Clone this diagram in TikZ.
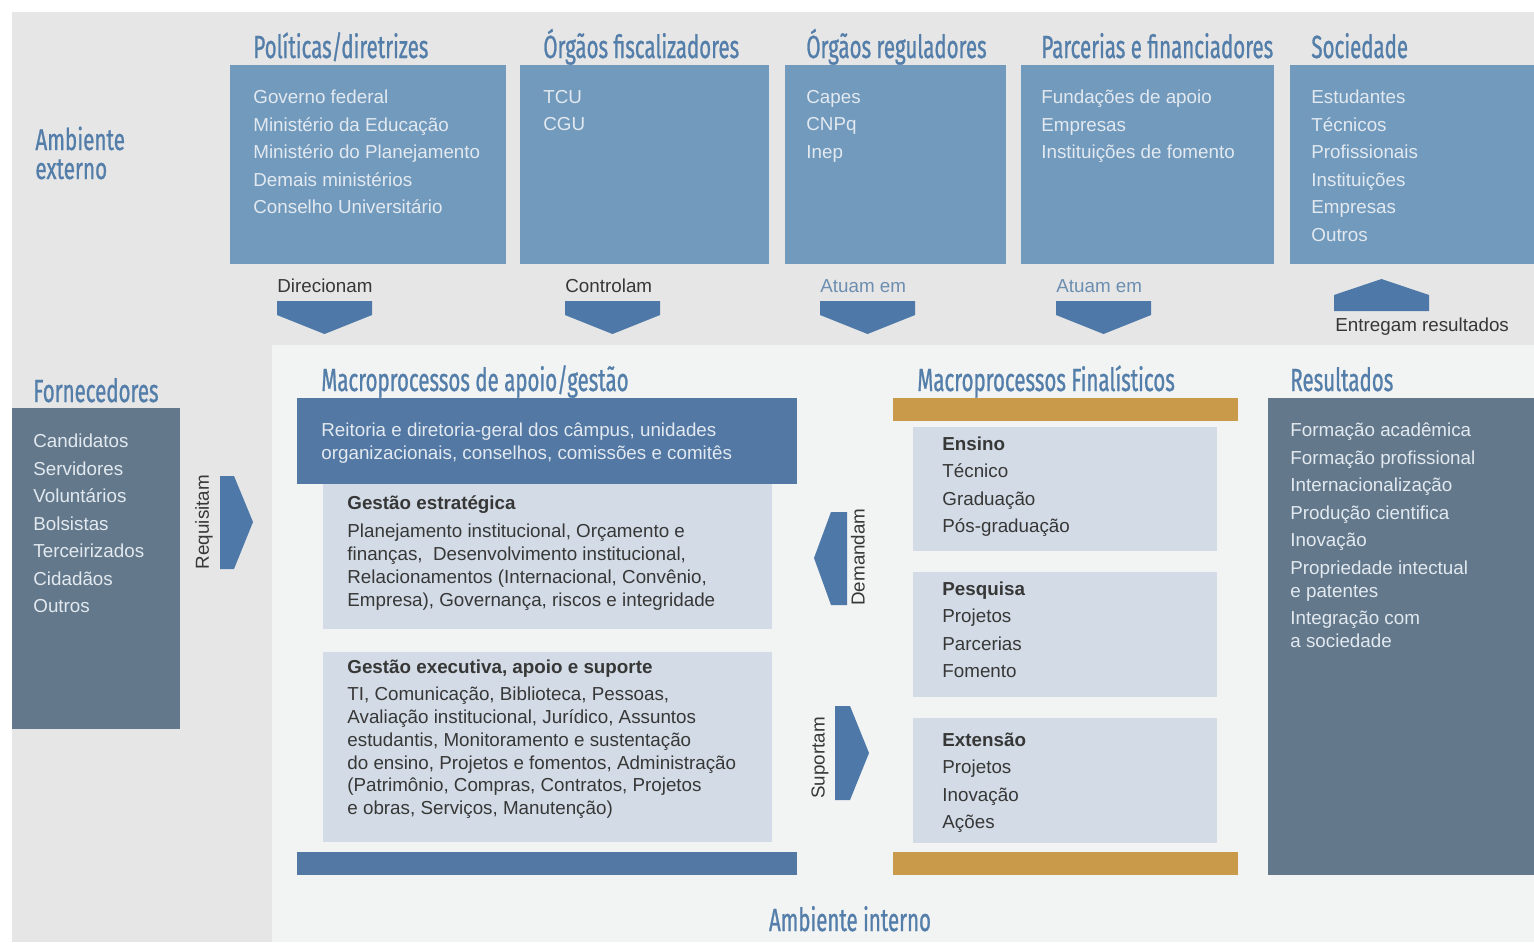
\documentclass[tikz,border=0pt]{standalone}
\usepackage{fontspec}
\setmainfont{Liberation Sans}
\newfontfamily\headfont[FakeStretch=0.64,FakeBold=0.8]{Fira Sans}
\newfontfamily\headwidefont[FakeStretch=0.69,FakeBold=0.8]{Fira Sans}

\definecolor{bggray}{RGB}{230,230,230}
\definecolor{ingray}{RGB}{242,243,243}
\definecolor{topblue}{RGB}{114,154,189}
\definecolor{deepblue}{RGB}{82,120,163}
\definecolor{arrowblue}{RGB}{77,120,168}
\definecolor{slate}{RGB}{99,120,138}
\definecolor{paleblue}{RGB}{211,220,230}
\definecolor{gold}{RGB}{201,154,74}
\definecolor{headblue}{RGB}{84,126,170}
\definecolor{lighttext}{RGB}{226,233,240}
\definecolor{darktext}{RGB}{55,55,55}
\definecolor{mutedblue}{RGB}{108,142,176}

\tikzset{
  headtitle/.style={anchor=base west, inner sep=0, text=headblue,
    font=\headfont\fontsize{16}{14}\selectfont},
  lightlist/.style={anchor=north west, inner sep=0, align=left, text=lighttext,
    font=\fontsize{9.4}{13.75}\selectfont},
  darklist/.style={anchor=north west, inner sep=0, align=left, text=darktext,
    font=\fontsize{9.4}{11.4}\selectfont},
  flowlabel/.style={inner sep=0, text=darktext, font=\fontsize{9.4}{11}\selectfont},
  blockarrow/.style={fill=arrowblue}
}

\begin{document}
\begin{tikzpicture}[x=0.5pt,y=-0.5pt]

    % --- Background ---
    \useasboundingbox (0,0) rectangle (1534,942);
    \fill[white] (0,0) rectangle (1534,942);
    \fill[bggray] (12,12) rectangle (1534,942);
    % Internal environment area
    \fill[ingray] (272,345) rectangle (1534,942);

    % --- External environment ---
    \node[headtitle, font=\headwidefont\fontsize{15}{14}\selectfont] (ext) at (35,150) {Ambiente};
    \node[headtitle, font=\headwidefont\fontsize{15}{14}\selectfont] (ext2) at (35,179) {externo};

    % Top boxes
    \fill[topblue] (230,65) rectangle (506,264);
    \fill[topblue] (520,65) rectangle (769,264);
    \fill[topblue] (785,65) rectangle (1006,264);
    \fill[topblue] (1021,65) rectangle (1274,264);
    \fill[topblue] (1290,65) rectangle (1534,264);

    \node[headtitle] (pol) at (253,58) {Políticas/diretrizes};
    \node[headtitle] (fis) at (543,58) {Órgãos fiscalizadores};
    \node[headtitle] (reg) at (806,58) {Órgãos reguladores};
    \node[headtitle] (par) at (1041,58) {Parcerias e financiadores};
    \node[headtitle] (soc) at (1311,58) {Sociedade};

    \node[lightlist] (polList) at (253,89.5) {Governo federal\\Ministério da Educação\\Ministério do Planejamento\\Demais ministérios\\Conselho Universitário};
    \node[lightlist] (fisList) at (543,89.5) {TCU\\CGU};
    \node[lightlist] (regList) at (806,89.5) {Capes\\CNPq\\Inep};
    \node[lightlist] (parList) at (1041,89.5) {Fundações de apoio\\Empresas\\Instituições de fomento};
    \node[lightlist] (socList) at (1311,89.5) {Estudantes\\Técnicos\\Profissionais\\Instituições\\Empresas\\Outros};

    % --- Arrows between the environments ---
    \node[flowlabel, anchor=west] (dir) at (277,286) {Direcionam};
    \node[flowlabel, anchor=west] (con) at (565,286) {Controlam};
    \node[flowlabel, anchor=west, text=mutedblue] (atu1) at (820,286) {Atuam em};
    \node[flowlabel, anchor=west, text=mutedblue] (atu2) at (1056,286) {Atuam em};
    \node[flowlabel, anchor=west] (ent) at (1335,327) {Entregam resultados};

    \foreach \x in {277,565,820,1056}{
      \fill[blockarrow] (\x,301) -- ++(95,0) -- ++(0,14) -- ++(-47.5,19) -- ++(-47.5,-19) -- cycle;
    }
    \fill[blockarrow] (1334,311) -- ++(95,0) -- ++(0,-16) -- ++(-47.5,-16) -- ++(-47.5,16) -- cycle;

    % --- Suppliers ---
    \node[headtitle] (forn) at (33,402) {Fornecedores};
    \fill[slate] (12,408) rectangle (180,729);
    \node[lightlist] (fornList) at (33,433.5) {Candidatos\\Servidores\\Voluntários\\Bolsistas\\Terceirizados\\Cidadãos\\Outros};

    \node[flowlabel, rotate=90] (req) at (204,522) {Requisitam};
    \fill[blockarrow] (220,476) -- (234,476) -- (253,522) -- (234,569) -- (220,569) -- cycle;

    % --- Support macroprocesses ---
    \node[headtitle] (apoio) at (321,391) {Macroprocessos de apoio/gestão};
    \fill[deepblue] (297,398) rectangle (797,484);
    \node[lightlist, font=\fontsize{9.4}{11.5}\selectfont] (reit) at (321,422.5) {Reitoria e diretoria-geral dos câmpus, unidades\\organizacionais, conselhos, comissões e comitês};

    \fill[paleblue] (323,484) rectangle (772,629);
    \node[darklist] (estr) at (347,495.5) {\textbf{Gestão estratégica}\\[2.6pt]Planejamento institucional, Orçamento e\\finanças,\ \ Desenvolvimento institucional,\\Relacionamentos (Internacional, Convênio,\\Empresa), Governança, riscos e integridade};

    \fill[paleblue] (323,652) rectangle (772,842);
    \node[darklist] (exec) at (347,659.5) {\textbf{Gestão executiva, apoio e suporte}\\[2.2pt]TI, Comunicação, Biblioteca, Pessoas,\\Avaliação institucional, Jurídico, Assuntos\\estudantis, Monitoramento e sustentação\\do ensino, Projetos e fomentos, Administração\\(Patrimônio, Compras, Contratos, Projetos\\e obras, Serviços, Manutenção)};

    \fill[deepblue] (297,852) rectangle (797,875);

    % --- Arrows between the macroprocesses ---
    \fill[blockarrow] (847,512) -- (831,512) -- (814,558) -- (831,605) -- (847,605) -- cycle;
    \node[flowlabel, rotate=90] (dem) at (858,557) {Demandam};
    \fill[blockarrow] (835,706) -- (850,706) -- (869,753) -- (850,800) -- (835,800) -- cycle;
    \node[flowlabel, rotate=90] (sup) at (820,758) {Suportam};

    % --- Core macroprocesses ---
    \node[headtitle] (fin) at (917,391) {Macroprocessos Finalísticos};
    \fill[gold] (893,398) rectangle (1238,421);
    \fill[paleblue] (913,427) rectangle (1217,551);
    \fill[paleblue] (913,572) rectangle (1217,697);
    \fill[paleblue] (913,718) rectangle (1217,843);
    \fill[gold] (893,852) rectangle (1238,875);

    \node[darklist, font=\fontsize{9.4}{13.65}\selectfont] (ens) at (942,436.5) {\textbf{Ensino}\\Técnico\\Graduação\\Pós-graduação};
    \node[darklist, font=\fontsize{9.4}{13.65}\selectfont] (pesq) at (942,581.5) {\textbf{Pesquisa}\\Projetos\\Parcerias\\Fomento};
    \node[darklist, font=\fontsize{9.4}{13.65}\selectfont] (extn) at (942,732.5) {\textbf{Extensão}\\Projetos\\Inovação\\Ações};

    % --- Results ---
    \node[headtitle] (res) at (1290,391) {Resultados};
    \fill[slate] (1268,398) rectangle (1534,875);
    \node[lightlist, font=\fontsize{9.4}{11.5}\selectfont] (resList) at (1290,422.5) {Formação acadêmica\\[2.25pt]Formação profissional\\[2.25pt]Internacionalização\\[2.25pt]Produção cientifica\\[2.25pt]Inovação\\[2.25pt]Propriedade intectual\\e patentes\\[2.25pt]Integração com\\a sociedade};

    % --- Internal environment ---
    \node[headtitle, anchor=base] (int) at (850,931) {Ambiente interno};

\end{tikzpicture}
\end{document}
